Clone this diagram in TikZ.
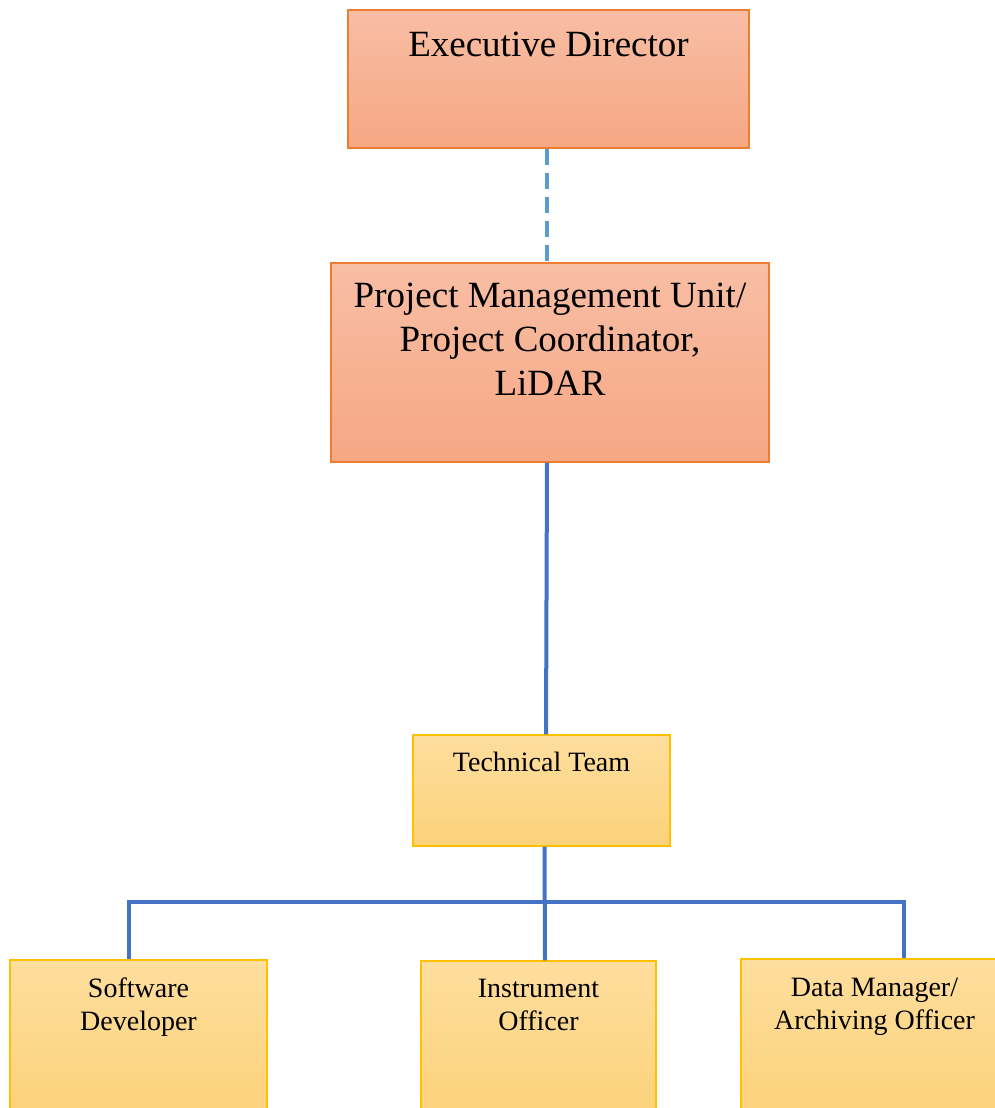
\documentclass[tikz,border=0pt]{standalone}
\usepackage{fontspec}
\setmainfont{Liberation Serif}
\usetikzlibrary{positioning,calc}
\definecolor{salmontop}{RGB}{248,190,165}
\definecolor{salmonbot}{RGB}{246,167,131}
\definecolor{salmonline}{RGB}{237,125,49}
\definecolor{goldtop}{RGB}{254,222,158}
\definecolor{goldbot}{RGB}{252,210,122}
\definecolor{goldline}{RGB}{255,192,0}
\definecolor{linkblue}{RGB}{68,114,196}
\definecolor{dashblue}{RGB}{91,155,213}
\tikzset{
  boss/.style={draw=salmonline,line width=1.3pt,top color=salmontop,bottom color=salmonbot,
    inner sep=0pt},
  staff/.style={draw=goldline,line width=1.3pt,top color=goldtop,bottom color=goldbot,
    inner sep=0pt},
  big tag/.style={anchor=north,inner sep=0pt,align=center,font=\fontsize{37}{44}\selectfont},
  small tag/.style={anchor=north,inner sep=0pt,align=center,font=\fontsize{28}{33}\selectfont},
  link/.style={draw=linkblue,line width=4pt},
  loose link/.style={draw=dashblue,line width=4pt,dash pattern=on 16pt off 8pt},
}
\begin{document}
\begin{tikzpicture}[x=1pt,y=1pt]
  \useasboundingbox (0,0) rectangle (995,1108);
  \clip (0,0) rectangle (995,1108);
  % boxes
  \node[boss,minimum width=401,minimum height=138] (exec) at (548.5,1029) {};
  \node[boss,minimum width=438,minimum height=199] (pmu) at (550,745.5) {};
  \node[staff,minimum width=257,minimum height=111] (tech) at (541.5,317.5) {};
  \node[staff,minimum width=257,minimum height=155] (soft) at (138.5,70.5) {};
  \node[staff,minimum width=235,minimum height=154] (inst) at (538.5,70) {};
  \node[staff,minimum width=259,minimum height=156] (data) at (870.5,71) {};
  % texts
  \node[big tag] (exec-t) at ([yshift=-22]exec.north) {Executive Director};
  \node[big tag] (pmu-t) at ([yshift=-20]pmu.north) {Project Management Unit/\\Project Coordinator,\\LiDAR};
  \node[small tag] (tech-t) at ([yshift=-18]tech.north) {Technical Team};
  \node[small tag] (soft-t) at ([yshift=-18]soft.north) {Software\\Developer};
  \node[small tag] (inst-t) at ([yshift=-19]inst.north) {Instrument\\Officer};
  \node[small tag] (data-t) at ([xshift=4,yshift=-19]data.north) {Data Manager/\\Archiving Officer};
  % connectors
  \draw[loose link] ([xshift=-1.5]exec.south) -- ([xshift=-1.5]exec.south |- pmu.north);
  \draw[link] ([xshift=-3]pmu.south) -- ([xshift=4.5]tech.north);
  \draw[link] ([xshift=3]tech.south) -- ([xshift=6.5]inst.north);
  \draw[link] ([xshift=-9.5]soft.north) -- ++(0,57) -| ([xshift=33.5]data.north);
\end{tikzpicture}
\end{document}
